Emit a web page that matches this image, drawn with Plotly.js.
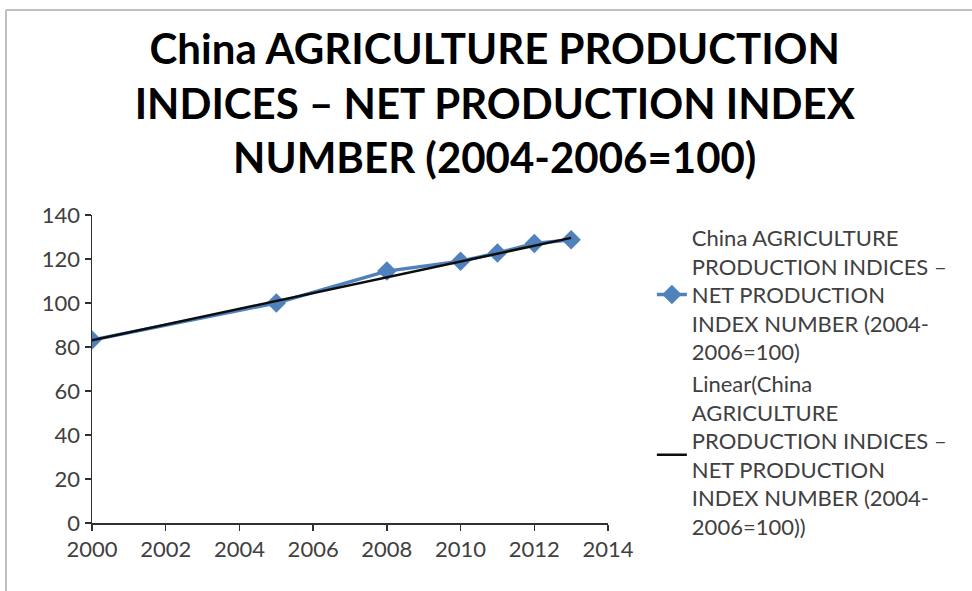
<!DOCTYPE html>
<html>
<head>
<meta charset="utf-8">
<script src="https://cdn.plot.ly/plotly-3.0.1.min.js"></script>
<style>html,body{margin:0;padding:0;background:#fff;}#chart{width:972px;height:591px;}</style>
</head>
<body>
<div id="chart"></div>
<script>
// Data
const years = [2000, 2005, 2008, 2010, 2011, 2012, 2013];
const netIndex = [83.2, 100.0, 114.5, 119.0, 122.7, 127.0, 128.8];
// Linear trend line endpoints
const trendYears = [2000, 2013];
const trendValues = [83.0, 129.6];
const xTicks = [2000, 2002, 2004, 2006, 2008, 2010, 2012, 2014];
const yTicks = [0, 20, 40, 60, 80, 100, 120, 140];

const seriesName = "China AGRICULTURE<br>PRODUCTION INDICES –<br>NET PRODUCTION<br>INDEX NUMBER (2004-<br>2006=100)";
const trendName = "Linear(China<br>AGRICULTURE<br>PRODUCTION INDICES –<br>NET PRODUCTION<br>INDEX NUMBER (2004-<br>2006=100))";
const titleText = "China AGRICULTURE PRODUCTION<br>INDICES – NET PRODUCTION INDEX<br>NUMBER (2004-2006=100)";

const FONT = "Lato, 'Open Sans', sans-serif";

const traces = [
  {
    x: years, y: netIndex, name: seriesName, type: 'scatter', mode: 'lines+markers',
    line: {color: '#4F81BD', width: 3.5},
    marker: {symbol: 'diamond', size: 15, color: '#4F81BD'}
  },
  {
    x: trendYears, y: trendValues, name: trendName, type: 'scatter', mode: 'lines',
    line: {color: '#0d0d0d', width: 2.5}
  }
];

const layout = {
  width: 972, height: 591,
  paper_bgcolor: '#ffffff', plot_bgcolor: '#ffffff',
  margin: {l: 92, r: 364, t: 215, b: 68, pad: 0},
  font: {family: FONT, color: '#404040'},
  title: {
    text: titleText,
    font: {family: FONT, size: 42, color: '#000000', weight: 'bold'},
    x: 0.509, xanchor: 'center', xref: 'container',
    y: 1 - 64/591, yanchor: 'top', yref: 'container'
  },
  xaxis: {
    range: [2000, 2014], tickvals: xTicks, ticktext: xTicks.map(String),
    showgrid: false, zeroline: false, showline: true, linecolor: '#303030', linewidth: 1.5,
    ticks: 'outside', ticklen: 6, tickcolor: '#303030', tickwidth: 1.5,
    tickfont: {family: FONT, size: 22, color: '#404040'}, fixedrange: true
  },
  yaxis: {
    range: [0, 140], tickvals: yTicks, ticktext: yTicks.map(String),
    showgrid: false, zeroline: false, showline: true, linecolor: '#303030', linewidth: 1.5,
    ticks: 'outside', ticklen: 6, tickcolor: '#303030', tickwidth: 1.5,
    tickfont: {family: FONT, size: 22, color: '#404040'}, fixedrange: true
  },
  showlegend: true,
  legend: {
    x: 1.085, xanchor: 'left', y: 0.995, yanchor: 'top',
    font: {family: FONT, size: 22, color: '#404040'},
    bgcolor: 'rgba(0,0,0,0)', tracegroupgap: 6, valign: 'middle',
    maxheight: 420
  },
  shapes: [
    {type: 'line', xref: 'paper', yref: 'paper', x0: -0.1667, x1: -0.1667, y0: -0.3, y1: 1.6656,
     line: {color: '#bfbfbf', width: 2}},
    {type: 'line', xref: 'paper', yref: 'paper', x0: -0.1667, x1: 1.8, y0: 1.6656, y1: 1.6656,
     line: {color: '#bfbfbf', width: 2}}
  ]
};

Plotly.newPlot('chart', traces, layout, {displayModeBar: false, staticPlot: true});
</script>
</body>
</html>
